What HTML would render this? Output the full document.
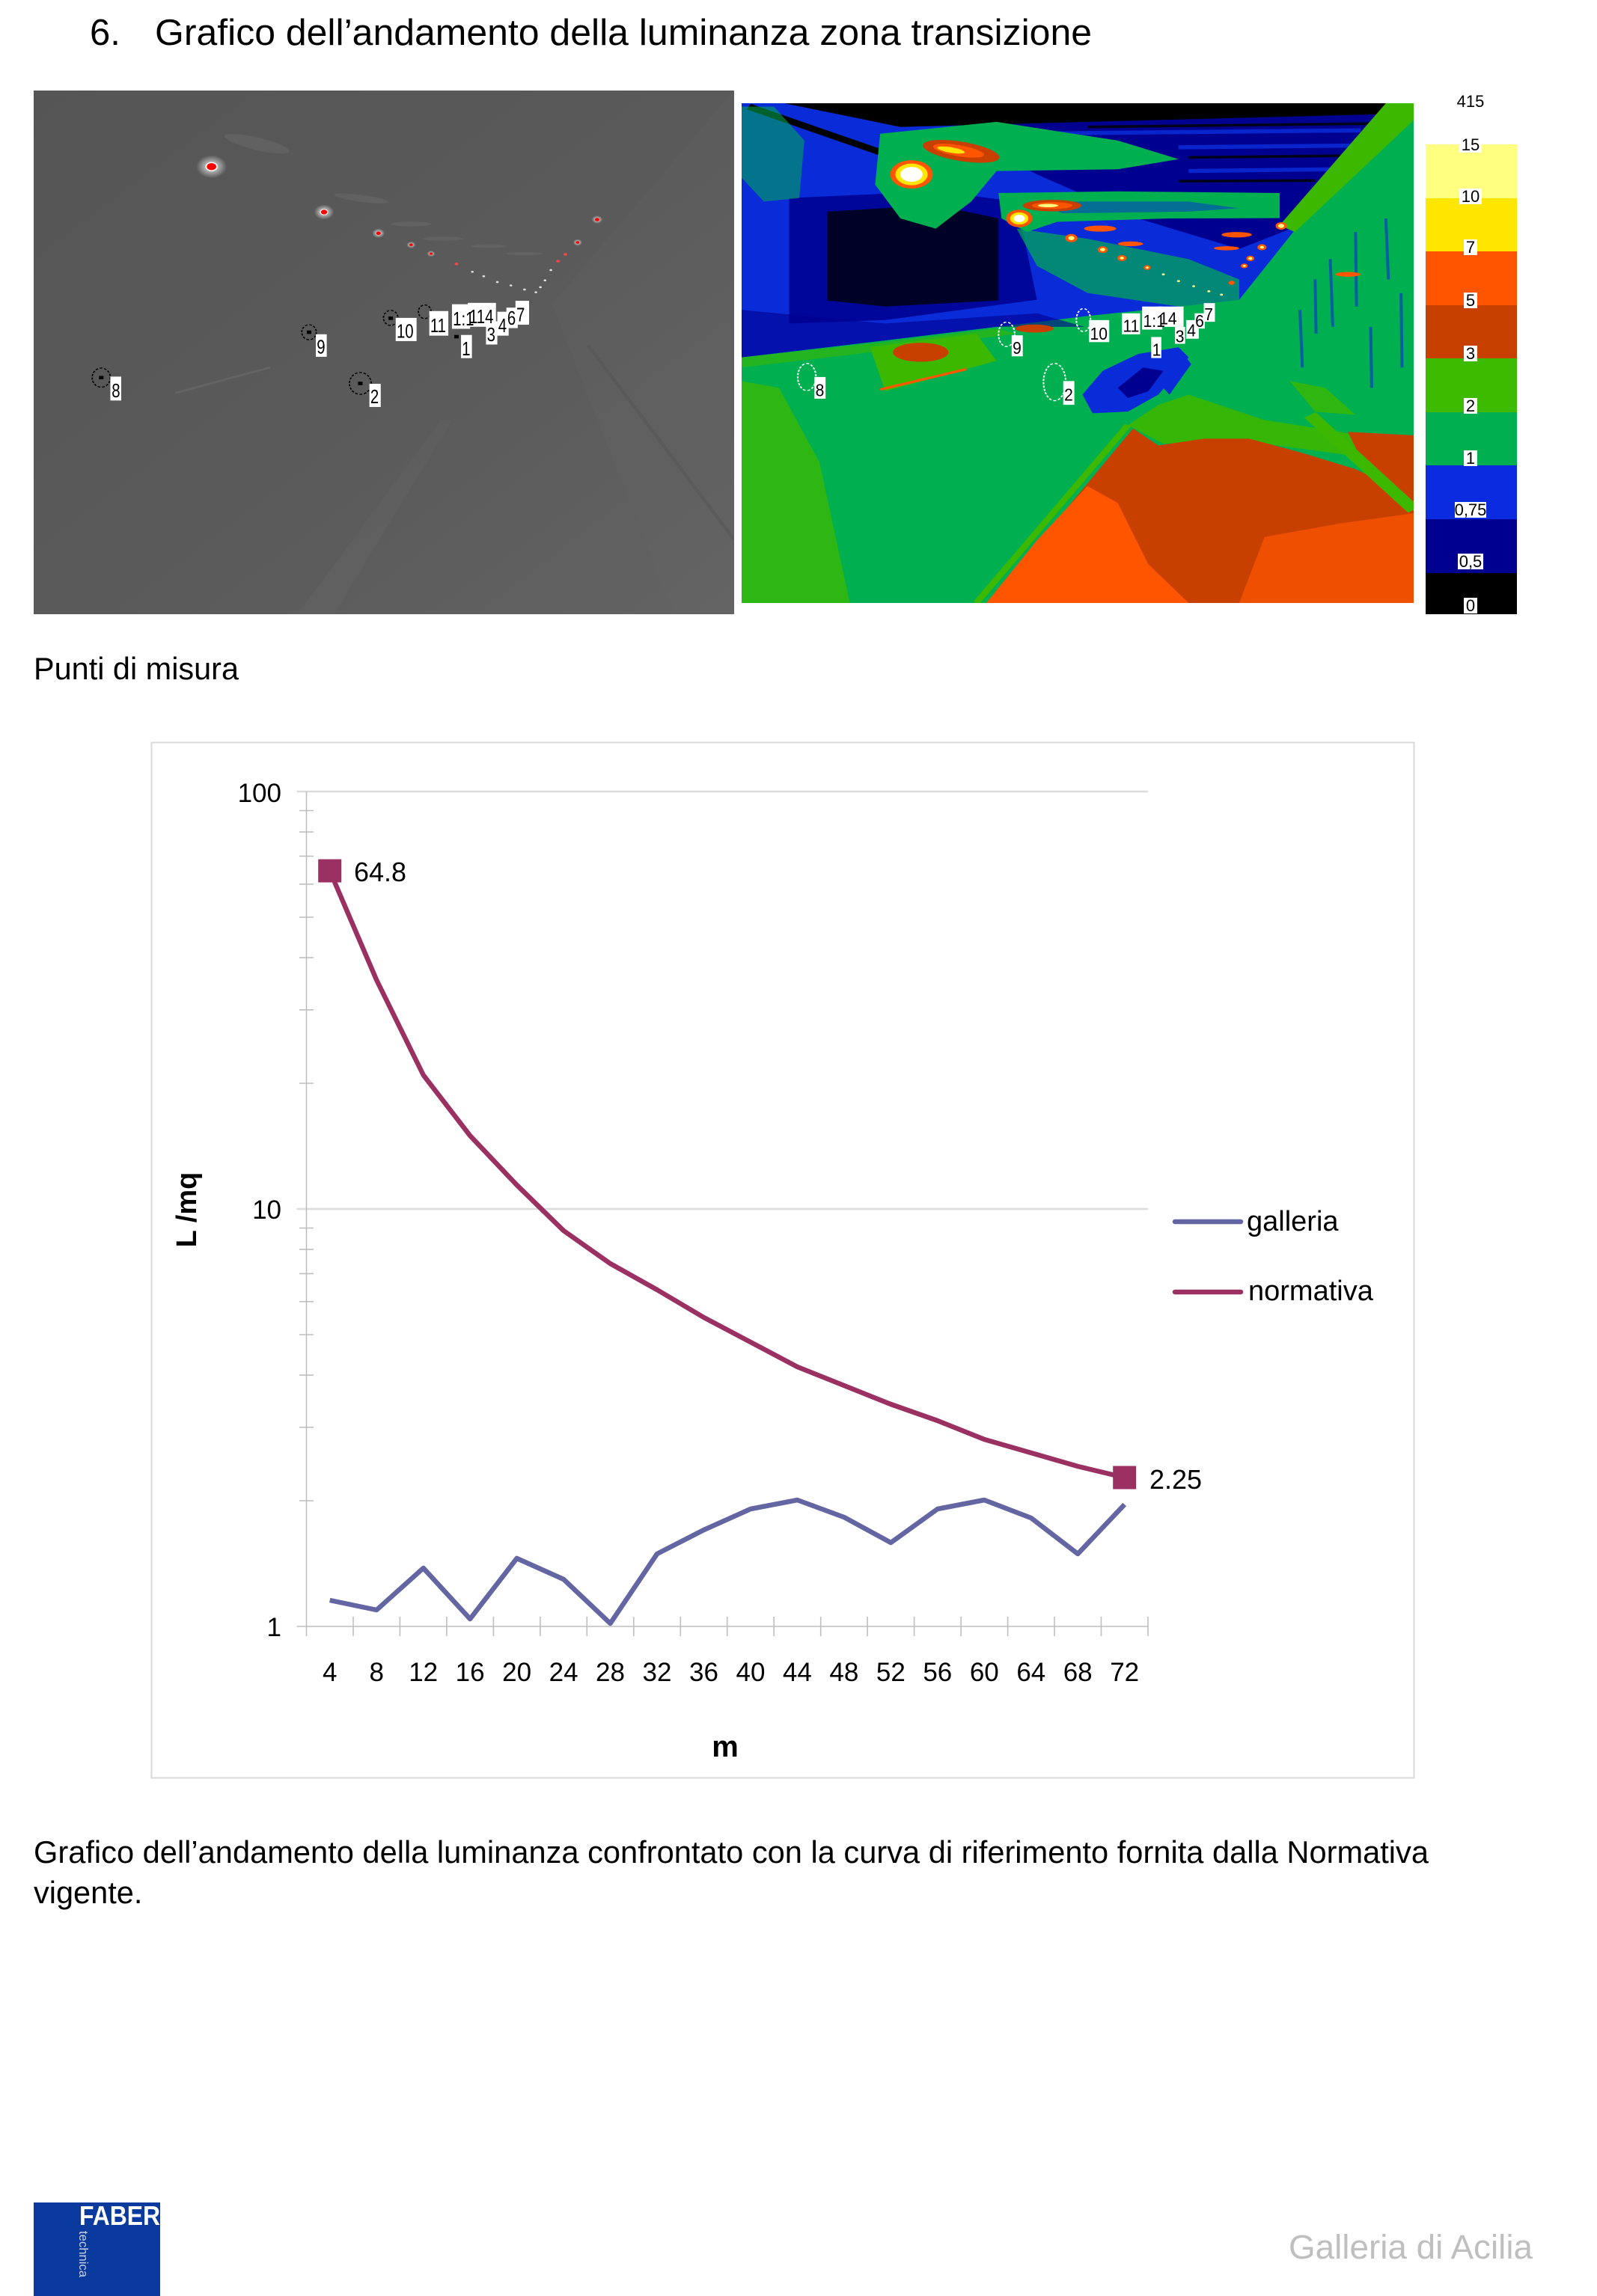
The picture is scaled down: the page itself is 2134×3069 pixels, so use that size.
<!DOCTYPE html>
<html><head><meta charset="utf-8">
<style>
html,body{margin:0;padding:0;background:#fff;}
body{width:2134px;height:3069px;position:relative;overflow:hidden;}
svg.page{position:absolute;left:0;top:0;}
text{font-family:"Liberation Sans",Arial,sans-serif;}
</style></head><body>
<svg class="page" width="2134" height="3069" viewBox="0 0 2134 3069">
<defs>
<linearGradient id="gry" x1="0" y1="0" x2="1" y2="1">
<stop offset="0" stop-color="#555"/><stop offset="0.6" stop-color="#5b5b5b"/><stop offset="1" stop-color="#636363"/>
</linearGradient>
<radialGradient id="glow"><stop offset="0" stop-color="#fff" stop-opacity="0.9"/><stop offset="1" stop-color="#fff" stop-opacity="0"/></radialGradient>
</defs>

<!-- Title -->
<text x="120" y="60" font-size="49">6.</text>
<text x="207" y="60" font-size="49" textLength="1252" lengthAdjust="spacingAndGlyphs">Grafico dell’andamento della luminanza zona transizione</text>

<!-- Left grayscale photo -->
<svg x="45" y="121" width="936" height="700" viewBox="8 14 1544 1534" preserveAspectRatio="none">
<rect x="8" y="14" width="1544" height="1534" fill="url(#gry)"/>
<polygon points="1150,640 1552,14 1552,1548 1420,1548" fill="#6a6a6a" opacity="0.15"/>
<polygon points="590,1548 670,1548 930,980 905,980" fill="#707070" opacity="0.18"/>
<line x1="1230" y1="760" x2="1552" y2="1330" stroke="#4e4e4e" stroke-width="8" opacity="0.3"/>
<line x1="320" y1="900" x2="530" y2="825" stroke="#7a7a7a" stroke-width="6" opacity="0.35"/>
<g fill="#7a7a7a" opacity="0.3">
<ellipse cx="500" cy="170" rx="75" ry="18" transform="rotate(18 500 170)"/>
<ellipse cx="730" cy="330" rx="60" ry="10" transform="rotate(10 730 330)"/>
<ellipse cx="840" cy="405" rx="45" ry="7"/>
<ellipse cx="910" cy="448" rx="45" ry="6"/>
<ellipse cx="1010" cy="470" rx="40" ry="5"/>
<ellipse cx="1090" cy="492" rx="40" ry="5"/>
</g>
<g>
<circle cx="400" cy="237" r="34" fill="url(#glow)"/><circle cx="400" cy="237" r="12" fill="#f00" stroke="#fff" stroke-width="3"/>
<circle cx="648" cy="370" r="22" fill="url(#glow)"/><circle cx="648" cy="370" r="8" fill="#f00" stroke="#fff" stroke-width="2"/>
<circle cx="768" cy="432" r="14" fill="url(#glow)"/><circle cx="768" cy="432" r="5" fill="#f00"/>
<circle cx="840" cy="466" r="10" fill="url(#glow)"/><circle cx="840" cy="466" r="4" fill="#f00"/>
<circle cx="884" cy="492" r="9" fill="url(#glow)"/><circle cx="884" cy="492" r="3.5" fill="#f00"/>
<circle cx="940" cy="522" r="4" fill="#f44"/>
<circle cx="1250" cy="392" r="12" fill="url(#glow)"/><circle cx="1250" cy="392" r="5" fill="#f00"/>
<circle cx="1207" cy="459" r="10" fill="url(#glow)"/><circle cx="1207" cy="459" r="4" fill="#f00"/>
<circle cx="1180" cy="494" r="4" fill="#f44"/>
<circle cx="1164" cy="514" r="4" fill="#f44"/>
<g fill="#ddd"><circle cx="975" cy="545" r="3"/><circle cx="1000" cy="558" r="3"/><circle cx="1030" cy="575" r="3"/><circle cx="1060" cy="585" r="3"/><circle cx="1090" cy="597" r="3"/><circle cx="1115" cy="605" r="3"/><circle cx="1148" cy="540" r="3"/><circle cx="1135" cy="570" r="3"/><circle cx="1125" cy="590" r="3"/></g>
</g>
<g fill="none" stroke="#000" stroke-width="3" stroke-dasharray="6 4">
<ellipse cx="157" cy="855" rx="20" ry="28"/><ellipse cx="615" cy="722" rx="16" ry="22"/><ellipse cx="795" cy="680" rx="16" ry="22"/><ellipse cx="728" cy="872" rx="24" ry="32"/><ellipse cx="870" cy="662" rx="14" ry="20"/>
</g>
<g fill="#000"><rect x="152" y="850" width="10" height="10"/><rect x="610" y="717" width="10" height="10"/><rect x="790" y="676" width="10" height="10"/><rect x="723" y="867" width="10" height="10"/><rect x="935" y="730" width="10" height="10"/></g>
<g fill="#fff">
<rect x="177" y="852" width="24" height="70"/><rect x="630" y="728" width="24" height="66"/><rect x="806" y="680" width="46" height="68"/><rect x="748" y="873" width="25" height="68"/><rect x="950" y="730" width="24" height="68"/>
<rect x="880" y="660" width="42" height="72"/><rect x="930" y="640" width="40" height="72"/><rect x="965" y="636" width="62" height="70"/><rect x="1005" y="690" width="25" height="68"/><rect x="1030" y="662" width="25" height="70"/><rect x="1050" y="650" width="25" height="60"/><rect x="1070" y="630" width="30" height="70"/>
</g>
<g font-size="56" fill="#000">
<text transform="translate(180,912) scale(0.6,1)">8</text>
<text transform="translate(632,784) scale(0.6,1)">9</text>
<text transform="translate(808,738) scale(0.6,1)">10</text>
<text transform="translate(750,930) scale(0.6,1)">2</text>
<text transform="translate(952,790) scale(0.6,1)">1</text>
<text transform="translate(882,722) scale(0.6,1)">11</text>
<text transform="translate(932,702) scale(0.6,1)">1:1</text>
<text transform="translate(968,696) scale(0.6,1)">114</text>
<text transform="translate(1007,748) scale(0.6,1)">3</text>
<text transform="translate(1032,722) scale(0.6,1)">4</text>
<text transform="translate(1052,700) scale(0.6,1)">6</text>
<text transform="translate(1072,690) scale(0.6,1)">7</text>
</g>
</svg>

<!-- False-color photo -->
<svg x="991" y="138" width="898" height="668" viewBox="16 40 1329 1475" preserveAspectRatio="none">
<rect x="16" y="40" width="1329" height="1475" fill="#00B050"/>
<polygon points="16,860 90,880 170,1100 230,1515 16,1515" fill="#3CB800" opacity="0.75"/>
<!-- ceiling + left wall -->
<polygon points="16,40 1310,40 1000,620 880,640 700,668 520,700 300,740 16,790" fill="#0A2BD8"/>
<polygon points="450,40 1300,40 1230,180 1120,400 1000,470 800,380 600,250 450,130" fill="#000090"/>
<g stroke="#0A2BD8" stroke-width="12" opacity="0.85">
<line x1="560" y1="130" x2="1240" y2="120"/><line x1="880" y1="170" x2="1220" y2="165"/><line x1="900" y1="240" x2="1180" y2="235"/>
</g>
<g stroke="#000" stroke-width="8" opacity="0.8">
<line x1="700" y1="110" x2="1260" y2="100"/><line x1="900" y1="200" x2="1200" y2="195"/><line x1="880" y1="270" x2="1150" y2="268"/>
</g>
<polygon points="100,40 1300,40 1290,72 700,95 330,110" fill="#000"/>
<line x1="30" y1="50" x2="320" y2="200" stroke="#000" stroke-width="18"/>
<!-- left wall navy/black -->
<polygon points="110,320 400,300 560,330 600,620 300,680 110,690" fill="#000090" opacity="0.85"/>
<polygon points="185,360 400,340 524,380 524,622 300,640 185,622" fill="#000" opacity="0.75"/>
<polygon points="16,650 300,690 600,660 694,700 520,700 300,740 16,790" fill="#000090" opacity="0.6"/>
<!-- upper-left green mix -->
<polygon points="16,50 80,50 140,150 130,320 60,330 16,260" fill="#00B050" opacity="0.55"/>
<!-- green zone A around light 1 & streak 1 -->
<polygon points="290,130 520,95 760,150 880,205 760,235 520,240 470,330 400,410 330,380 280,280" fill="#00B050"/>
<!-- green zone B around streak 2 -->
<polygon points="524,305 760,300 1080,305 1080,379 860,380 640,390 580,420 530,380" fill="#00B050"/>
<polygon points="600,330 900,330 1000,350 900,360 650,365" fill="#0A2BD8" opacity="0.5"/>
<!-- light row zone C -->
<polygon points="560,410 700,440 900,500 1000,560 1000,620 880,640 700,600 600,520" fill="#00B050" opacity="0.7"/>
<!-- right-wall top light-green edge -->
<polygon points="1290,40 1345,40 1345,90 1110,420 1080,400" fill="#3CB800"/>
<g stroke="#0A2BD8" stroke-width="6" opacity="0.6">
<line x1="1180" y1="500" x2="1185" y2="700"/><line x1="1230" y1="420" x2="1232" y2="640"/><line x1="1290" y1="380" x2="1295" y2="560"/><line x1="1120" y1="650" x2="1125" y2="820"/><line x1="1320" y1="600" x2="1322" y2="820"/><line x1="1260" y1="700" x2="1262" y2="880"/><line x1="1150" y1="560" x2="1152" y2="720"/>
</g>
<!-- lights -->
<ellipse cx="450" cy="182" rx="78" ry="28" fill="#C84000" transform="rotate(15 450 182)"/>
<ellipse cx="445" cy="180" rx="52" ry="16" fill="#FF5500" transform="rotate(15 445 180)"/>
<ellipse cx="430" cy="178" rx="28" ry="8" fill="#FFE600" transform="rotate(15 430 178)"/>
<circle cx="352" cy="250" r="42" fill="#FF5500"/><circle cx="352" cy="250" r="32" fill="#FFE600"/><circle cx="352" cy="250" r="22" fill="#fff"/>
<ellipse cx="630" cy="342" rx="58" ry="17" fill="#C84000"/><ellipse cx="630" cy="342" rx="40" ry="10" fill="#FF5500"/><ellipse cx="622" cy="342" rx="20" ry="5" fill="#FFFF80"/>
<circle cx="565" cy="380" r="26" fill="#FF5500"/><circle cx="565" cy="380" r="18" fill="#FFE600"/><circle cx="565" cy="380" r="11" fill="#fff"/>
<g fill="#FF5500">
<ellipse cx="725" cy="410" rx="32" ry="9"/><ellipse cx="785" cy="455" rx="25" ry="7"/><ellipse cx="995" cy="428" rx="30" ry="8"/><ellipse cx="975" cy="468" rx="25" ry="6"/><ellipse cx="1215" cy="545" rx="25" ry="7"/>
<circle cx="668" cy="438" r="12"/><circle cx="730" cy="472" r="10"/><circle cx="768" cy="497" r="9"/><circle cx="818" cy="525" r="7"/>
<circle cx="1083" cy="402" r="11"/><circle cx="1045" cy="465" r="9"/><circle cx="1022" cy="498" r="8"/><circle cx="1010" cy="520" r="7"/><circle cx="985" cy="570" r="6"/>
</g>
<g fill="#FFFF80">
<circle cx="668" cy="438" r="6"/><circle cx="730" cy="472" r="5"/><circle cx="768" cy="497" r="4"/><circle cx="818" cy="525" r="3"/>
<circle cx="1083" cy="402" r="6"/><circle cx="1045" cy="465" r="4"/><circle cx="1022" cy="498" r="4"/><circle cx="1010" cy="520" r="3"/>
<circle cx="850" cy="545" r="3"/><circle cx="880" cy="565" r="3"/><circle cx="910" cy="580" r="3"/><circle cx="940" cy="595" r="3"/><circle cx="965" cy="605" r="3"/>
</g>
<!-- floor -->
<polygon points="270,760 480,720 520,800 300,890" fill="#3CB800"/>
<polygon points="16,790 300,745 520,705 560,720 300,770 16,820" fill="#3CB800" opacity="0.6"/>
<ellipse cx="370" cy="775" rx="55" ry="28" fill="#C84000"/>
<ellipse cx="595" cy="705" rx="38" ry="12" fill="#C84000"/>
<line x1="290" y1="885" x2="460" y2="825" stroke="#FF5500" stroke-width="7"/>
<polygon points="780,990 840,930 900,900 960,930 1050,975 1200,1010 1345,1060 1345,1110 1200,1075 1000,1035 850,1045" fill="#3CB800" opacity="0.9"/>
<polygon points="1100,860 1170,880 1230,960 1150,950" fill="#3CB800" opacity="0.8"/>
<polygon points="690,900 730,830 800,780 880,760 900,790 870,850 840,900 780,950 710,955" fill="#0A2BD8"/>
<polygon points="760,880 810,820 850,830 820,890 780,910" fill="#000090"/>
<polygon points="850,880 895,790 905,810 862,900" fill="#0A2BD8"/>
<polygon points="500,1515 640,1270 790,1000 840,1050 930,1030 1020,1030 1120,1070 1230,1120 1345,1200 1345,1515" fill="#C84000"/>
<polygon points="500,1515 600,1330 700,1170 760,1220 820,1400 900,1515" fill="#FF5500"/>
<polygon points="1000,1515 1050,1320 1200,1280 1345,1250 1345,1515" fill="#FF5500" opacity="0.7"/>
<polygon points="1215,1010 1345,1020 1345,1200 1260,1150" fill="#C84000"/>
<line x1="1140" y1="960" x2="1345" y2="1240" stroke="#3CB800" stroke-width="28"/>
<line x1="480" y1="1515" x2="780" y2="990" stroke="#3CB800" stroke-width="14"/>
<!-- labels -->
<g fill="none" stroke="#fff" stroke-width="3" stroke-dasharray="6 4">
<ellipse cx="145" cy="848" rx="18" ry="40"/><ellipse cx="540" cy="722" rx="16" ry="36"/><ellipse cx="692" cy="680" rx="14" ry="34"/><ellipse cx="635" cy="863" rx="22" ry="55"/>
</g>
<g fill="#fff">
<rect x="160" y="848" width="22" height="64"/><rect x="550" y="725" width="22" height="62"/><rect x="703" y="680" width="40" height="65"/><rect x="652" y="860" width="22" height="70"/><rect x="826" y="730" width="20" height="62"/>
<rect x="768" y="660" width="36" height="62"/><rect x="808" y="640" width="40" height="68"/><rect x="840" y="640" width="50" height="60"/><rect x="873" y="700" width="20" height="50"/><rect x="895" y="680" width="25" height="55"/><rect x="912" y="660" width="20" height="45"/><rect x="930" y="630" width="22" height="55"/>
</g>
<g font-size="52" fill="#000">
<text transform="translate(162,905) scale(0.6,1)">8</text>
<text transform="translate(552,780) scale(0.6,1)">9</text>
<text transform="translate(705,738) scale(0.6,1)">10</text>
<text transform="translate(654,918) scale(0.6,1)">2</text>
<text transform="translate(828,785) scale(0.6,1)">1</text>
<text transform="translate(770,715) scale(0.6,1)">11</text>
<text transform="translate(810,700) scale(0.6,1)">1:1</text>
<text transform="translate(842,692) scale(0.6,1)">14</text>
<text transform="translate(874,745) scale(0.6,1)">3</text>
<text transform="translate(897,728) scale(0.6,1)">4</text>
<text transform="translate(913,700) scale(0.6,1)">6</text>
<text transform="translate(931,680) scale(0.6,1)">7</text>
</g>
</svg>

<!-- Color scale -->
<rect x="1905" y="193" width="122" height="72" fill="#FFFF80"/>
<rect x="1905" y="265" width="122" height="71" fill="#FFE600"/>
<rect x="1905" y="336" width="122" height="72" fill="#FF5500"/>
<rect x="1905" y="408" width="122" height="71" fill="#C84000"/>
<rect x="1905" y="479" width="122" height="72" fill="#3CBB00"/>
<rect x="1905" y="551" width="122" height="71" fill="#00B050"/>
<rect x="1905" y="622" width="122" height="72" fill="#0A2BE0"/>
<rect x="1905" y="694" width="122" height="72" fill="#000090"/>
<rect x="1905" y="766" width="122" height="55" fill="#000"/>
<g fill="#fff">
<rect x="1950" y="183" width="30" height="21"/><rect x="1950" y="252" width="30" height="21"/><rect x="1956" y="320" width="18" height="21"/><rect x="1956" y="391" width="18" height="21"/><rect x="1956" y="462" width="18" height="21"/><rect x="1956" y="532" width="18" height="21"/><rect x="1956" y="602" width="18" height="21"/><rect x="1944" y="671" width="42" height="21"/><rect x="1948" y="740" width="34" height="21"/><rect x="1956" y="799" width="18" height="21"/>
</g>
<g font-size="22" fill="#000" text-anchor="middle">
<text x="1965" y="143">415</text>
<text x="1965" y="201">15</text>
<text x="1965" y="270">10</text>
<text x="1965" y="338">7</text>
<text x="1965" y="409">5</text>
<text x="1965" y="480">3</text>
<text x="1965" y="550">2</text>
<text x="1965" y="620">1</text>
<text x="1965" y="689">0,75</text>
<text x="1965" y="758">0,5</text>
<text x="1965" y="817">0</text>
</g>

<text x="45" y="908" font-size="41.5" textLength="274" lengthAdjust="spacingAndGlyphs">Punti di misura</text>

<!-- Chart -->
<rect x="202.5" y="992.5" width="1687" height="1384" fill="none" stroke="#D9D9D9" stroke-width="2"/>
<g stroke="#DCDCDC" stroke-width="2.5">
<line x1="396.5" y1="1058" x2="1534" y2="1058"/>
<line x1="396.5" y1="1616" x2="1534" y2="1616"/>
</g>
<g stroke="#BFBFBF" stroke-width="1.6">
<line x1="409.5" y1="1058" x2="409.5" y2="2174"/>
<line x1="396.5" y1="2174" x2="1534" y2="2174"/>
<line x1="400" y1="2006" x2="419" y2="2006"/><line x1="400" y1="1907.8" x2="419" y2="1907.8"/><line x1="400" y1="1838.1" x2="419" y2="1838.1"/><line x1="400" y1="1784" x2="419" y2="1784"/><line x1="400" y1="1739.8" x2="419" y2="1739.8"/><line x1="400" y1="1702.4" x2="419" y2="1702.4"/><line x1="400" y1="1670.1" x2="419" y2="1670.1"/><line x1="400" y1="1641.5" x2="419" y2="1641.5"/>
<line x1="400" y1="1448" x2="419" y2="1448"/><line x1="400" y1="1349.8" x2="419" y2="1349.8"/><line x1="400" y1="1280.1" x2="419" y2="1280.1"/><line x1="400" y1="1226" x2="419" y2="1226"/><line x1="400" y1="1181.8" x2="419" y2="1181.8"/><line x1="400" y1="1144.4" x2="419" y2="1144.4"/><line x1="400" y1="1112.1" x2="419" y2="1112.1"/><line x1="400" y1="1083.5" x2="419" y2="1083.5"/>
<line x1="472" y1="2161" x2="472" y2="2187"/><line x1="534.4" y1="2161" x2="534.4" y2="2187"/><line x1="596.9" y1="2161" x2="596.9" y2="2187"/><line x1="659.4" y1="2161" x2="659.4" y2="2187"/><line x1="721.9" y1="2161" x2="721.9" y2="2187"/><line x1="784.3" y1="2161" x2="784.3" y2="2187"/><line x1="846.8" y1="2161" x2="846.8" y2="2187"/><line x1="909.3" y1="2161" x2="909.3" y2="2187"/><line x1="971.7" y1="2161" x2="971.7" y2="2187"/><line x1="1034.2" y1="2161" x2="1034.2" y2="2187"/><line x1="1096.7" y1="2161" x2="1096.7" y2="2187"/><line x1="1159.1" y1="2161" x2="1159.1" y2="2187"/><line x1="1221.6" y1="2161" x2="1221.6" y2="2187"/><line x1="1284.1" y1="2161" x2="1284.1" y2="2187"/><line x1="1346.6" y1="2161" x2="1346.6" y2="2187"/><line x1="1409" y1="2161" x2="1409" y2="2187"/><line x1="1471.5" y1="2161" x2="1471.5" y2="2187"/><line x1="1534" y1="2161" x2="1534" y2="2187"/>
<line x1="409.5" y1="2174" x2="409.5" y2="2187"/>
</g>
<g font-size="35" fill="#000" text-anchor="end">
<text x="376" y="1072">100</text>
<text x="376" y="1629">10</text>
<text x="376" y="2187">1</text>
</g>
<g font-size="35" fill="#000" text-anchor="middle">
<text x="440.7" y="2247">4</text><text x="503.2" y="2247">8</text><text x="565.7" y="2247">12</text><text x="628.1" y="2247">16</text><text x="690.6" y="2247">20</text><text x="753.1" y="2247">24</text><text x="815.5" y="2247">28</text><text x="878" y="2247">32</text><text x="940.5" y="2247">36</text><text x="1003" y="2247">40</text><text x="1065.4" y="2247">44</text><text x="1127.9" y="2247">48</text><text x="1190.4" y="2247">52</text><text x="1252.8" y="2247">56</text><text x="1315.3" y="2247">60</text><text x="1377.8" y="2247">64</text><text x="1440.2" y="2247">68</text><text x="1502.7" y="2247">72</text>
</g>
<polyline fill="none" stroke="#6465A3" stroke-width="6.5" stroke-linejoin="round" points="440.7,2139 503.2,2152 565.7,2096 628.1,2164 690.6,2083 753.1,2111 815.5,2170 878,2077 940.5,2045 1003,2017 1065.4,2005 1127.9,2028 1190.4,2062 1252.8,2017 1315.3,2005 1377.8,2029 1440.2,2077 1502.7,2011"/>
<polyline fill="none" stroke="#9B3163" stroke-width="6.5" stroke-linejoin="round" points="440.7,1164 503.2,1310 565.7,1437 628.1,1518 690.6,1584 753.1,1645 815.5,1689 878,1724 940.5,1761 1003,1794 1065.4,1827 1127.9,1852 1190.4,1877 1252.8,1899 1315.3,1924 1377.8,1942 1440.2,1960 1502.7,1975"/>
<rect x="425.2" y="1148.5" width="31" height="31" fill="#9B3163"/>
<rect x="1487.2" y="1959.5" width="31" height="31" fill="#9B3163"/>
<text x="473" y="1178" font-size="36">64.8</text>
<text x="1536" y="1990" font-size="36">2.25</text>
<line x1="1570" y1="1633" x2="1658" y2="1633" stroke="#6465A3" stroke-width="6.5" stroke-linecap="round"/>
<line x1="1570" y1="1727" x2="1658" y2="1727" stroke="#9B3163" stroke-width="6.5" stroke-linecap="round"/>
<text x="1666" y="1645" font-size="38">galleria</text>
<text x="1668" y="1738" font-size="38">normativa</text>
<text x="969" y="2348" font-size="40" font-weight="bold" text-anchor="middle">m</text>
<text transform="translate(262,1617) rotate(-90)" font-size="38" font-weight="bold" text-anchor="middle">L /mq</text>

<!-- Caption -->
<text x="45" y="2490" font-size="41.5" textLength="1864" lengthAdjust="spacingAndGlyphs">Grafico dell’andamento della luminanza confrontato con la curva di riferimento fornita dalla Normativa</text>
<text x="45" y="2544" font-size="41.5">vigente.</text>

<!-- Footer -->
<rect x="45" y="2944" width="169" height="125" fill="#0B3A9E"/>
<text x="106" y="2974" font-size="36" font-weight="bold" fill="#fff" textLength="108" lengthAdjust="spacingAndGlyphs">FABER</text>
<text transform="translate(106,2982) rotate(90)" font-size="17" fill="#c8d0e8" textLength="62" lengthAdjust="spacingAndGlyphs">technica</text>
<text x="1722" y="3019" font-size="45.5" fill="#BFBFBF" textLength="326" lengthAdjust="spacingAndGlyphs">Galleria di Acilia</text>
</svg>
</body></html>
